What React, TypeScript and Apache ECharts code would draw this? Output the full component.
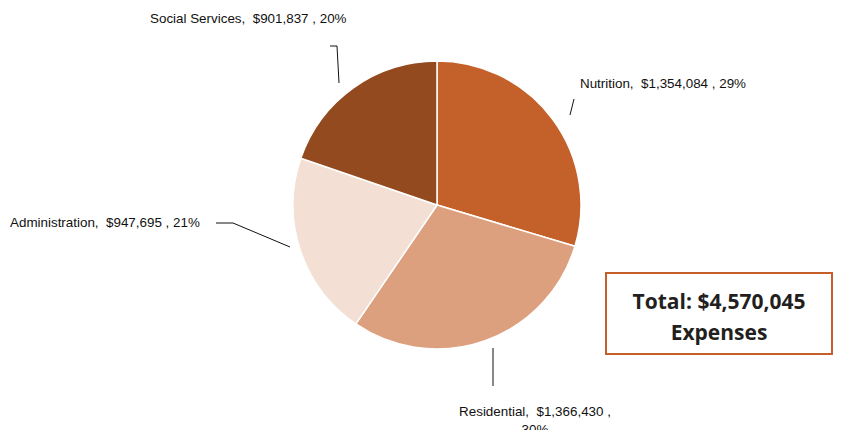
import React, { useEffect, useRef } from "react";
import * as echarts from "echarts";

const categories = ["Nutrition", "Residential", "Administration", "Social Services"];
const amounts = [1354084, 1366430, 947695, 901837];
const percents = [29, 30, 21, 20];
const totalLabel = "Total: $4,570,045";
const totalSub = "Expenses";

const colors = ["#C4612A", "#DDA07E", "#F3DFD4", "#934A1E"];

// label placement (layout only)
const labelPos = [
  { x: 580, y: 83, align: "left", verticalAlign: "middle", line: [[570, 115], [572, 107], [574, 99]] },
  { x: 535, y: 402, align: "center", verticalAlign: "top", line: [[493, 348], [493, 367], [493, 386]] },
  { x: 10, y: 222, align: "left", verticalAlign: "middle", line: [[290, 247], [233, 223], [216, 223]] },
  { x: 150, y: 18, align: "left", verticalAlign: "middle", line: [[339, 83], [337, 46], [330, 46]] },
];

const fmt = (n: number) => "$" + n.toLocaleString("en-US");

export default function App() {
  const ref = useRef<HTMLDivElement>(null);
  useEffect(() => {
    if (!ref.current) return;
    const chart = echarts.init(ref.current, undefined, { renderer: "svg" });
    chart.setOption({
      animation: false,
      backgroundColor: "#ffffff",
      series: [
        {
          type: "pie",
          center: [437, 205],
          radius: 144,
          startAngle: 90,
          clockwise: true,
          avoidLabelOverlap: false,
          itemStyle: { borderColor: "#ffffff", borderWidth: 1.5 },
          label: {
            show: true,
            color: "#111111",
            fontFamily: "Liberation Sans, Arial, sans-serif",
            fontSize: 13.4,
            lineHeight: 18,
            formatter: (p: any) => {
              const i = p.dataIndex;
              const base = `${categories[i]},  ${fmt(amounts[i])} ,`;
              return i === 1 ? `${base}\n${percents[i]}%` : `${base} ${percents[i]}%`;
            },
          },
          labelLine: { show: true, lineStyle: { color: "#111111", width: 1 } },
          labelLayout: (params: any) => {
            const p = labelPos[params.dataIndex];
            return {
              x: p.x,
              y: p.y,
              align: p.align,
              verticalAlign: p.verticalAlign,
              labelLinePoints: p.line,
            };
          },
          data: categories.map((c, i) => ({
            name: c,
            value: amounts[i],
            itemStyle: { color: colors[i] },
          })),
        },
      ],
      graphic: [
        {
          type: "rect",
          shape: { x: 606, y: 273, width: 226, height: 81 },
          style: { fill: "#ffffff", stroke: "#C55F2A", lineWidth: 2 },
        },
        {
          type: "text",
          x: 719,
          y: 301,
          style: {
            text: totalLabel,
            fill: "#231F20",
            font: "bold 21px 'Open Sans', sans-serif",
            align: "center",
            verticalAlign: "middle",
          },
        },
        {
          type: "text",
          x: 719,
          y: 332,
          style: {
            text: totalSub,
            fill: "#231F20",
            font: "bold 21px 'Open Sans', sans-serif",
            align: "center",
            verticalAlign: "middle",
          },
        },
      ],
    });
    return () => chart.dispose();
  }, []);
  return (
    <div
      ref={ref}
      style={{ position: "absolute", left: 0, top: 0, width: 841, height: 430 }}
    />
  );
}
